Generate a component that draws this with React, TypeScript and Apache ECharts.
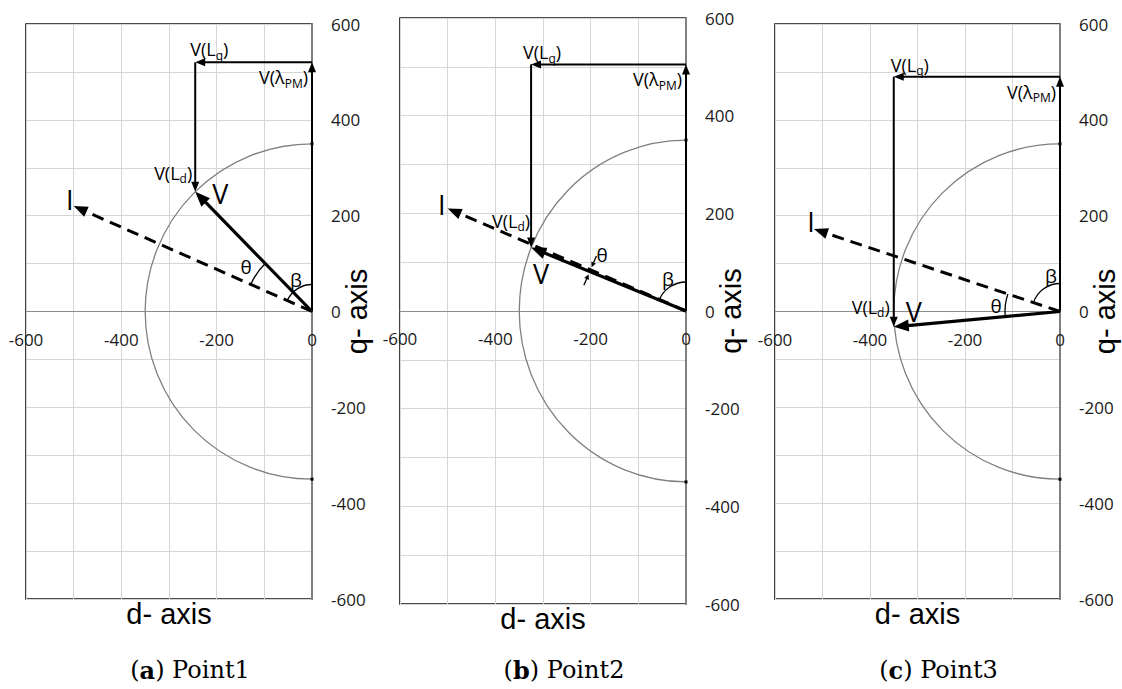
import React, { useEffect, useRef } from 'react';
import * as echarts from 'echarts';

// ---- data ----
const panelLetters = ['a', 'b', 'c'];
const panelNames = ['Point1', 'Point2', 'Point3'];
const lambdaPM = [520, 505, 490];      // V(λPM) along q-axis
const vD = [-245, -325, -350];         // V d-component (= V(Lq) end)
const vQ = [250, 130, -32];            // V q-component (= V(Ld) end)
const iD = [-500, -500, -518];         // current vector d
const iQ = [220, 210, 172];            // current vector q
const circleR = [350, 350, 350];       // voltage limit circle radius
const dRange = [-600, 0];
const qRange = [-600, 600];
const gridStep = 100;
const labelStep = 200;

// ---- layout / style ----
const grids = [
  { left: 26, top: 24, width: 286, height: 575 },
  { left: 400, top: 18, width: 286, height: 586 },
  { left: 775, top: 24, width: 285, height: 575 },
];

const annot = [
  { theta: 'arc', thetaR: 67, betaR: 27, thetaLabel: [-66, -45], betaLabel: [-16, -32], lq: [-5, -13], lpm: [-4, 15], ld: [-3, -19], v: [25, 2], i: [-4, -7] },
  { theta: 'arrows', thetaR: 104, betaR: 29, thetaLabel: [-84, -56], betaLabel: [-18, -32], lq: [-8, -12], lpm: [-4, 15], ld: [-1, -27], v: [10, 26], i: [-6, -4] },
  { theta: 'arc', thetaR: 55, betaR: 28, thetaLabel: [-64, -6], betaLabel: [-9, -36], lq: [-3, -12], lpm: [-4, 15], ld: [-4, -20], v: [20, -15], i: [-3, -8] },
];

const vectorStyles = [
  { width: 2, head: 10, hw: 4, dash: undefined as any },
  { width: 3.2, head: 15, hw: 6, dash: undefined as any },
  { width: 3, head: 14, hw: 5.5, dash: [12, 7] },
];

const SANS = '"Open Sans", "Noto Sans", sans-serif';
const TITLE_FONT = '"Liberation Sans", Arial, sans-serif';
const richLbl = {
  m: { fontSize: 18, fontFamily: SANS, fill: '#000', color: '#000', lineHeight: 24 },
  s: { fontSize: 12, fontFamily: SANS, fill: '#000', color: '#000', lineHeight: 12, verticalAlign: 'bottom' },
};

const fmt = (v: number) => (v % labelStep === 0 ? String(v) : '');

function buildOption() {
  const xAxis: any[] = [];
  const yAxis: any[] = [];
  const series: any[] = [];
  const graphic: any[] = [];

  grids.forEach((g, k) => {
    const zeroOffset = -g.height * (0 - qRange[0]) / (qRange[1] - qRange[0]);
    xAxis.push({
      type: 'value', gridIndex: k, min: dRange[0], max: dRange[1], interval: gridStep,
      position: 'bottom', offset: zeroOffset,
      axisLine: { show: true, onZero: false, lineStyle: { color: '#8c8c8c', width: 1 } },
      axisTick: { show: false },
      splitLine: { show: true, lineStyle: { color: '#d6d6d6', width: 1 } },
      axisLabel: { formatter: fmt, margin: 19, fontSize: 17, fontFamily: SANS, color: '#1a1a1a' },
    });
    yAxis.push({
      type: 'value', gridIndex: k, position: 'right', min: qRange[0], max: qRange[1], interval: gridStep,
      axisLine: { show: true, onZero: false, lineStyle: { color: '#808080', width: 2 } },
      axisTick: { show: false },
      splitLine: { show: true, lineStyle: { color: '#d6d6d6', width: 1 } },
      axisLabel: { formatter: fmt, margin: 19, fontSize: 17, fontFamily: SANS, color: '#1a1a1a' },
    });

    // voltage-limit semicircle
    series.push({
      type: 'custom', xAxisIndex: k, yAxisIndex: k, z: 2, silent: true, clip: false,
      data: [[0, 0, circleR[k]]],
      renderItem: (params: any, api: any) => {
        const r = api.value(2);
        const o = api.coord([0, 0]);
        const top = api.coord([0, r]);
        const left = api.coord([-r, 0]);
        const rx = o[0] - left[0];
        const ry = o[1] - top[1];
        return {
          type: 'group',
          children: [
            {
              type: 'path',
              shape: { pathData: `M ${o[0]} ${o[1] - ry} A ${rx} ${ry} 0 0 0 ${o[0]} ${o[1] + ry}` },
              style: { stroke: '#808080', lineWidth: 1.3, fill: 'none' },
            },
            { type: 'rect', shape: { x: o[0] - 1.5, y: o[1] - ry - 1.5, width: 3, height: 3 }, style: { fill: '#000' } },
            { type: 'rect', shape: { x: o[0] - 1.5, y: o[1] + ry - 1.5, width: 3, height: 3 }, style: { fill: '#000' } },
          ],
        };
      },
    });

    // vectors: [x1, y1, x2, y2, kind]
    const vecData = [
      [0, 0, 0, lambdaPM[k], 0],
      [0, lambdaPM[k], vD[k], lambdaPM[k], 0],
      [vD[k], lambdaPM[k], vD[k], vQ[k], 0],
      [0, 0, iD[k], iQ[k], 2],
      [0, 0, vD[k], vQ[k], 1],
    ];
    series.push({
      type: 'custom', xAxisIndex: k, yAxisIndex: k, z: 3, silent: true, clip: false,
      dimensions: ['x1', 'y1', 'x2', 'y2', 'kind'],
      encode: { x: [0, 2], y: [1, 3] },
      data: vecData,
      renderItem: (params: any, api: any) => {
        const p1 = api.coord([api.value(0), api.value(1)]);
        const p2 = api.coord([api.value(2), api.value(3)]);
        const st = vectorStyles[api.value(4)];
        const dx = p2[0] - p1[0];
        const dy = p2[1] - p1[1];
        const len = Math.hypot(dx, dy) || 1;
        const ux = dx / len, uy = dy / len;
        const nx = -uy, ny = ux;
        const bx = p2[0] - ux * st.head, by = p2[1] - uy * st.head;
        return {
          type: 'group',
          children: [
            {
              type: 'line',
              shape: { x1: p1[0], y1: p1[1], x2: bx + ux, y2: by + uy },
              style: { stroke: '#000', lineWidth: st.width, lineDash: st.dash, fill: 'none' },
            },
            {
              type: 'polygon',
              shape: { points: [[p2[0], p2[1]], [bx + nx * st.hw, by + ny * st.hw], [bx - nx * st.hw, by - ny * st.hw]] },
              style: { fill: '#000' },
            },
          ],
        };
      },
    });

    // annotations: angle arcs and labels
    series.push({
      type: 'custom', xAxisIndex: k, yAxisIndex: k, z: 4, silent: true, clip: false,
      data: [[0, 0]],
      renderItem: (params: any, api: any) => {
        const cfg = annot[k];
        const o = api.coord([0, 0]);
        const pV = api.coord([vD[k], vQ[k]]);
        const pI = api.coord([iD[k], iQ[k]]);
        const pLq = api.coord([vD[k], lambdaPM[k]]);
        const pPM = api.coord([0, lambdaPM[k]]);
        const ang = (p: number[]) => Math.atan2(p[1] - o[1], p[0] - o[0]);
        const aI = ang(pI), aV = ang(pV), aQ = -Math.PI / 2;
        const arc = (a1: number, a2: number, r: number) => {
          let d = a2 - a1;
          while (d > Math.PI) d -= 2 * Math.PI;
          while (d <= -Math.PI) d += 2 * Math.PI;
          const s = d > 0 ? a1 : a2;
          return {
            type: 'arc',
            shape: { cx: o[0], cy: o[1], r, startAngle: s, endAngle: s + Math.abs(d), clockwise: true },
            style: { stroke: '#000', lineWidth: 1.3, fill: 'none' },
          };
        };
        const txt = (x: number, y: number, text: string, align: string, size = 18, rich?: any) => ({
          type: 'text', x, y,
          style: { text, fill: '#000', fontSize: size, fontFamily: SANS, align, verticalAlign: 'middle', rich },
        });
        const children: any[] = [];
        children.push(arc(aQ, aI, cfg.betaR));
        if (cfg.theta === 'arc') {
          children.push(arc(aI, aV, cfg.thetaR));
        } else {
          const uI = [Math.cos(aI), Math.sin(aI)];
          const uV = [Math.cos(aV), Math.sin(aV)];
          const n = [-uI[1], uI[0]];
          const ptI = [o[0] + uI[0] * cfg.thetaR, o[1] + uI[1] * cfg.thetaR];
          const ptV = [o[0] + uV[0] * cfg.thetaR, o[1] + uV[1] * cfg.thetaR];
          const smallArrow = (base: number[], sgn: number) => {
            const tail = [base[0] + sgn * n[0] * 15, base[1] + sgn * n[1] * 15];
            const head = [base[0] + sgn * n[0] * 3, base[1] + sgn * n[1] * 3];
            const u = [-sgn * n[0], -sgn * n[1]];
            const b = [head[0] - u[0] * 5, head[1] - u[1] * 5];
            const p = [-u[1], u[0]];
            return [
              { type: 'line', shape: { x1: tail[0], y1: tail[1], x2: b[0], y2: b[1] }, style: { stroke: '#000', lineWidth: 1.3 } },
              { type: 'polygon', shape: { points: [head, [b[0] + p[0] * 2.5, b[1] + p[1] * 2.5], [b[0] - p[0] * 2.5, b[1] - p[1] * 2.5]] }, style: { fill: '#000' } },
            ];
          };
          children.push(...smallArrow(ptI, 1), ...smallArrow(ptV, -1));
        }
        children.push(txt(o[0] + cfg.thetaLabel[0], o[1] + cfg.thetaLabel[1], 'θ', 'center', 19));
        children.push(txt(o[0] + cfg.betaLabel[0], o[1] + cfg.betaLabel[1], 'β', 'center', 19));
        children.push(txt(pLq[0] + cfg.lq[0], pLq[1] + cfg.lq[1], '{m|V(L}{s|q}{m|)}', 'left', 18, richLbl));
        children.push(txt(pPM[0] + cfg.lpm[0], pPM[1] + cfg.lpm[1], '{m|V(λ}{s|PM}{m|)}', 'right', 18, richLbl));
        children.push(txt(pV[0] + cfg.ld[0], pV[1] + cfg.ld[1], '{m|V(L}{s|d}{m|)}', 'right', 18, richLbl));
        children.push(txt(pV[0] + cfg.v[0], pV[1] + cfg.v[1], 'V', 'center', 27));
        children.push(txt(pI[0] + cfg.i[0], pI[1] + cfg.i[1], 'I', 'center', 27));
        return { type: 'group', children };
      },
    });

    // axis titles and caption
    graphic.push({
      type: 'text', x: g.left + g.width / 2, y: g.top + g.height + 15, silent: true,
      style: { text: 'd- axis', fontSize: 29, fontFamily: TITLE_FONT, fill: '#000', align: 'center', verticalAlign: 'middle' },
    });
    graphic.push({
      type: 'text', x: g.left + g.width + 45, y: g.top + g.height / 2, rotation: Math.PI / 2, silent: true,
      style: { text: 'q- axis', fontSize: 29, fontFamily: TITLE_FONT, fill: '#000', align: 'center', verticalAlign: 'middle' },
    });
    graphic.push({
      type: 'text', x: g.left + g.width / 2 + 21, y: 670, silent: true,
      style: {
        text: `{n|(}{b|${panelLetters[k]}}{n|) ${panelNames[k]}}`,
        align: 'center', verticalAlign: 'middle', fill: '#000',
        rich: {
          n: { fontSize: 24, fontFamily: '"DejaVu Serif", serif', fill: '#000' },
          b: { fontSize: 24, fontFamily: '"DejaVu Serif", serif', fontWeight: 'bold', fill: '#000' },
        },
      },
    });
  });

  return {
    animation: false,
    backgroundColor: '#ffffff',
    grid: grids.map((g) => ({ ...g, show: true, borderColor: '#111', borderWidth: 1.6, backgroundColor: 'transparent', containLabel: false })),
    xAxis,
    yAxis,
    series,
    graphic,
  };
}

export default function App() {
  const ref = useRef<HTMLDivElement>(null);
  useEffect(() => {
    if (!ref.current) return;
    const chart = echarts.init(ref.current, undefined, { renderer: 'svg' });
    chart.setOption(buildOption() as any);
    return () => chart.dispose();
  }, []);
  return (
    <div
      ref={ref}
      style={{ position: 'absolute', left: 0, top: 0, width: 1122, height: 689, background: '#fff' }}
    />
  );
}
